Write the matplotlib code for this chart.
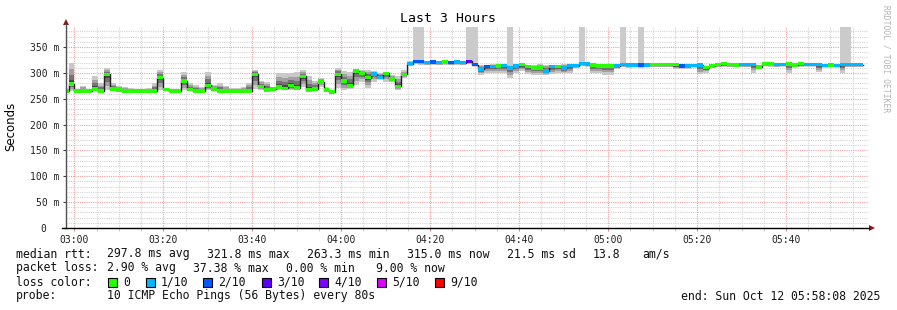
import matplotlib
matplotlib.use('Agg')
import matplotlib.pyplot as plt
from matplotlib.patches import Rectangle, Polygon
from matplotlib.lines import Line2D
import numpy as np

W, H = 897, 310

# smokeping samples, one every 80 s; minutes relative to 03:00
start_min = -2.63
step_min = 80 / 60

# median rtt per sample (ms)
median = [
    265, 278, 265, 265, 265, 269, 265, 297, 269, 267, 265, 265, 265, 265, 265,
    265, 291, 268, 265, 265, 284, 268, 265, 265, 276, 269, 265, 265, 265, 265,
    265, 265, 297, 274, 267, 269, 273, 270, 276, 271, 293, 267, 269, 282, 267,
    263.3, 297, 284, 276, 304, 299, 291, 298, 291, 299, 288, 274, 297, 318, 322,
    322, 320, 321, 320, 321, 320, 321, 320, 322, 316, 307, 312, 312, 313, 314,
    309, 313, 316, 312, 309, 309, 304, 312, 312, 309, 314, 314, 318, 317, 315,
    313, 313, 313, 314, 316, 315, 315, 315, 315, 316, 316, 316, 316, 316, 313,
    314, 314, 315, 310, 313, 316, 318, 316, 315, 316, 316, 316, 311, 317, 317,
    316, 316, 317, 315, 318, 316, 316, 316, 314, 315, 314, 316, 316, 316, 316,
]
# lost pings out of 10
loss = [
    0, 0, 0, 0, 0, 0, 0, 0, 0, 0, 0, 0, 0, 0, 0,
    0, 0, 0, 0, 0, 0, 0, 0, 0, 0, 0, 0, 0, 0, 0,
    0, 0, 0, 0, 0, 0, 0, 0, 0, 0, 0, 0, 0, 0, 0,
    0, 0, 0, 0, 0, 0, 0, 1, 1, 0, 0, 0, 0, 1, 2,
    2, 1, 2, 1, 0, 2, 1, 1, 3, 2, 1, 2, 1, 0, 1,
    1, 1, 0, 0, 0, 0, 1, 1, 0, 1, 1, 1, 1, 1, 0,
    0, 0, 0, 1, 1, 1, 1, 2, 1, 0, 0, 0, 0, 0, 2,
    1, 1, 1, 0, 0, 0, 0, 0, 0, 1, 1, 1, 0, 0, 0,
    1, 1, 0, 0, 0, 1, 1, 1, 1, 0, 1, 1, 1, 1, 1,
]
# fastest / slowest ping per sample (ms)
smoke_lo = [
    264, 265, 265, 265, 265, 265, 265, 266, 265, 265, 265, 265, 265, 265, 265,
    265, 266, 265, 265, 265, 266, 265, 265, 265, 266, 265, 265, 265, 265, 265,
    265, 265, 268, 266, 265, 265, 266, 266, 266, 266, 272, 265, 265, 273, 265,
    263, 271, 266, 268, 276, 283, 271, 283, 288, 283, 283, 266, 290, 314, 317,
    316, 316, 316, 316, 316, 316, 316, 316, 317, 313, 296, 300, 300, 300, 300,
    291, 299, 303, 297, 296, 296, 296, 297, 300, 299, 300, 309, 313, 312, 300,
    300, 296, 296, 308, 311, 310, 311, 310, 311, 312, 312, 312, 312, 307, 308,
    308, 311, 297, 300, 311, 312, 312, 311, 312, 312, 312, 300, 313, 313, 312,
    312, 313, 300, 313, 312, 313, 313, 301, 311, 312, 312, 300, 312, 312, 312,
]
smoke_hi = [
    266, 319, 268, 275, 268, 294, 280, 309, 280, 275, 273, 271, 268, 268, 271,
    280, 306, 268, 266, 266, 302, 280, 276, 272, 302, 276, 280, 275, 271, 271,
    272, 281, 306, 285, 283, 272, 299, 299, 300, 302, 305, 294, 285, 290, 272,
    266, 310, 303, 302, 307, 305, 305, 303, 300, 302, 296, 293, 305, 322, 324,
    324, 322, 323, 322, 323, 322, 323, 322, 324, 320, 316, 316, 317, 317, 318,
    316, 318, 319, 316, 315, 317, 316, 316, 315, 318, 318, 318, 320, 320, 318,
    317, 316, 316, 318, 320, 319, 318, 318, 319, 318, 318, 318, 318, 317, 317,
    317, 318, 318, 314, 316, 318, 320, 318, 317, 318, 318, 318, 314, 319, 319,
    318, 318, 319, 317, 320, 318, 318, 318, 317, 318, 317, 318, 318, 318, 318,
]
# samples where one ping went far off the top of the graph
spikes = [59, 60, 68, 69, 75, 87, 94, 97, 131, 132]

loss_colors = {0: '#26ff00', 1: '#00b8ff', 2: '#0059ff', 3: '#5e00ff',
               4: '#7e00ff', 5: '#dd00ff', 9: '#ff0000'}
loss_keys = [0, 1, 2, 3, 4, 5, 9]
loss_labels = ['0', '1/10', '2/10', '3/10', '4/10', '5/10', '9/10']

x_ticks = [0, 20, 40, 60, 80, 100, 120, 140, 160]
x_labels = ['03:00', '03:20', '03:40', '04:00', '04:20', '04:40', '05:00', '05:20', '05:40']
y_ticks = [0, 50, 100, 150, 200, 250, 300, 350]
y_labels = ['0  ', '50 m', '100 m', '150 m', '200 m', '250 m', '300 m', '350 m']

MONO = 'DejaVu Sans Mono'

med = np.array(median, dtype=float)
lo = np.array(smoke_lo, dtype=float)
hi = np.array(smoke_hi, dtype=float)
t = start_min + step_min * np.arange(len(med))
ytop = 388.7

fig = plt.figure(figsize=(W / 100, H / 100), dpi=100)
fig.patch.set_facecolor('white')
ax = fig.add_axes([66 / W, 82 / H, 802 / W, 201 / H])
ax.set_xlim(-1.867, -1.867 + 802 / 4.448)
ax.set_ylim(0, ytop)

# smoke
ax.bar([t[i] for i in spikes], ytop + 10 - lo[spikes], bottom=lo[spikes], width=step_min,
       align='edge', color='#cbcbcb', linewidth=0, zorder=2)
for frac, col in zip([1.0, 0.7, 0.45, 0.2], ['#c8c8c8', '#a0a0a0', '#737373', '#484848']):
    b = med - (med - lo) * frac
    top = med + (hi - med) * frac
    ax.bar(t, top - b, bottom=b, width=step_min, align='edge', color=col,
           linewidth=0, zorder=2)

# median line + loss-coloured block
ax.step(np.append(t, t[-1] + step_min), np.append(med, med[-1]), where='post',
        color='#202020', lw=1, zorder=3)
cols = [loss_colors[l if l <= 5 else 9] for l in loss]
ax.bar(t, 6.8, bottom=med - 3.4, width=step_min, align='edge', color=cols,
       linewidth=0, zorder=4)

# grid
ax.set_xticks(x_ticks)
ax.set_xticks(np.arange(0, 180, 5), minor=True)
ax.set_yticks(y_ticks)
ax.set_yticks(np.arange(0, 390, 10), minor=True)
ax.set_xticklabels(x_labels, fontfamily=MONO, fontsize=7, color='#202020')
ax.set_yticklabels(y_labels, fontfamily=MONO, fontsize=7, color='#202020')
ax.grid(which='minor', color='#d4d4d4', lw=0.8, ls=(0, (1, 1)), zorder=0)
ax.grid(which='major', color='#f4a0a0', lw=0.8, ls=(0, (1, 1)), zorder=1)
ax.tick_params(axis='x', which='major', length=2, color='#e08080', pad=3)
ax.tick_params(axis='x', which='minor', length=2, color='#c0c0c0')
ax.tick_params(axis='y', which='major', length=2, color='#404040', pad=3)
ax.tick_params(axis='y', which='minor', length=0)
for s in ax.spines.values():
    s.set_visible(False)
ax.set_axisbelow(True)


def fx(x):
    return x / W


def fy(y):
    return 1 - y / H


# axes with arrows
fig.add_artist(Line2D([fx(66), fx(66)], [fy(228), fy(24)], color='#505050', lw=1))
fig.add_artist(Line2D([fx(62), fx(869)], [fy(228), fy(228)], color='black', lw=1))
fig.add_artist(Polygon([[fx(66), fy(19)], [fx(63), fy(25)], [fx(69), fy(25)]],
                       closed=True, color='#8b1a1a', lw=0))
fig.add_artist(Polygon([[fx(875), fy(228)], [fx(869), fy(225)], [fx(869), fy(231)]],
                       closed=True, color='#8b1a1a', lw=0))

fig.text(fx(448), fy(19), 'Last 3 Hours', fontfamily=MONO, fontsize=9.5,
         ha='center', va='center')
fig.text(fx(11), fy(126), 'Seconds', fontfamily='DejaVu Sans', fontsize=8.5,
         rotation=90, ha='center', va='center')
fig.text(fx(886), fy(59), 'RRDTOOL / TOBI OETIKER', fontfamily=MONO, fontsize=5.8,
         rotation=-90, ha='center', va='center', color='#b4b4b4')

# legend
leg = dict(fontfamily=MONO, fontsize=8.3, va='center', color='#111111')
row1 = [(16, 'median rtt:'), (107, '297.8 ms avg'), (207, '321.8 ms max'),
        (307, '263.3 ms min'), (407, '315.0 ms now'), (507, '21.5 ms sd'),
        (593, '13.8'), (642, 'am/s')]
row2 = [(16, 'packet loss:'), (107, '2.90 % avg'), (193, '37.38 % max'),
        (286, '0.00 % min'), (376, '9.00 % now')]
for x, s in row1:
    fig.text(fx(x), fy(254), s, **leg)
for x, s in row2:
    fig.text(fx(x), fy(268), s, **leg)
fig.text(fx(16), fy(282), 'loss color:', **leg)
sq_x = [108, 146, 203, 262, 319, 377, 435]
for x, k, lab in zip(sq_x, loss_keys, loss_labels):
    fig.add_artist(Rectangle((fx(x), fy(287)), 9 / W, 9 / H, facecolor=loss_colors[k],
                             edgecolor='black', lw=0.8))
    fig.text(fx(x + 15), fy(282), lab, **leg)
fig.text(fx(16), fy(296), 'probe:', **leg)
fig.text(fx(107), fy(296), '10 ICMP Echo Pings (56 Bytes) every 80s', **leg)
fig.text(fx(880), fy(296), 'end: Sun Oct 12 05:58:08 2025', ha='right', **leg)

fig.savefig('out.png', dpi=100, facecolor='white')
